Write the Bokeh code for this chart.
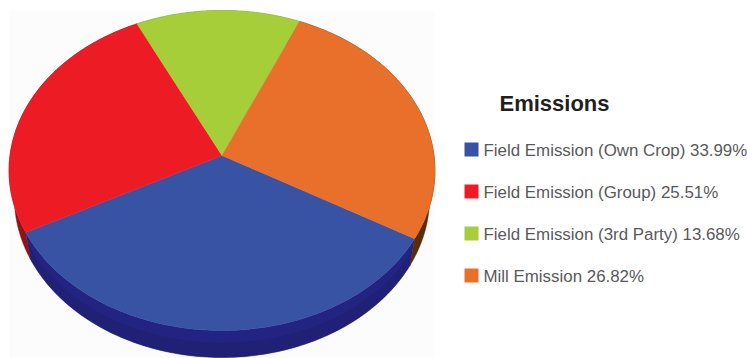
import numpy as np
from bokeh.plotting import figure
from bokeh.models import Range1d
from bokeh.core.properties import value
from bokeh.embed import file_html
from bokeh.resources import INLINE

title = "Emissions"
labels = ["Field Emission (Own Crop)", "Field Emission (Group)", "Field Emission (3rd Party)", "Mill Emission"]
shares = [33.99, 25.51, 13.68, 26.82]
colors = ["#3953a4", "#ed1c24", "#a6ce39", "#e8702a"]
side_colors = ["#232382", "#8f1414", "#6a8424", "#5a2c0c"]

# layout, in page pixels
CX, CY = 221.5, 155.0
A, B, K = 212.0, 158.6, 0.0938
DEPTH, NARROW = 27.0, 0.975
START = 120.0  # clockwise from 12 o'clock, where the first slice begins


def project(theta_deg, depth=0.0, narrow=1.0):
    t = np.radians(theta_deg)
    u, v = np.sin(t), np.cos(t)
    w = 1 + K * v
    return CX + narrow * A * u / w, CY - B * v / w + depth


p = figure(width=747, height=358, output_backend="svg", toolbar_location=None,
           x_range=Range1d(0, 747), y_range=Range1d(358, 0), min_border=0,
           background_fill_color="white", border_fill_color="white")
p.axis.visible = False
p.grid.visible = False
p.outline_line_color = None

p.quad(left=[9], right=[434], top=[10], bottom=[358], fill_color="#fcfcfc", line_color=None)

ends = START + np.cumsum(shares) * 3.6
starts = np.concatenate([[START], ends[:-1]])

# side wall
for s, e, c in zip(starts, ends, side_colors):
    th = np.linspace(s, e, 120)
    x1, y1 = project(th)
    x2, y2 = project(th[::-1], DEPTH, NARROW)
    p.patch(np.concatenate([x1, x2]), np.concatenate([y1, y2]), fill_color=c, line_color=c, line_width=0.5)

# darker lower band on the wall of the nearest slice
th = np.linspace(starts[0], ends[0], 160)
x1, y1 = project(th, DEPTH * 0.45, (1 + NARROW) / 2)
x2, y2 = project(th[::-1], DEPTH, NARROW)
p.patch(np.concatenate([x1, x2]), np.concatenate([y1, y2]), fill_color="#1f1f6e", fill_alpha=0.55, line_color=None)

# top face
for s, e, c in zip(starts, ends, colors):
    th = np.linspace(s, e, 120)
    x, y = project(th)
    p.patch(np.concatenate([[CX], x]), np.concatenate([[CY], y]), fill_color=c, line_color=c, line_width=0.5)

# legend
LEG_X, LEG_Y, LEG_STEP, BOX = 464, 142, 42, 14
TEXT_X = 483
ys = [LEG_Y + i * LEG_STEP for i in range(len(labels))]
p.quad(left=[LEG_X] * 4, right=[LEG_X + BOX] * 4, top=ys, bottom=[y + BOX for y in ys],
       fill_color=colors, line_color=None)
p.text(x=[TEXT_X] * 4, y=[y + 8 for y in ys],
       text=[f"{l} {s:.2f}%" for l, s in zip(labels, shares)],
       text_font=value("Liberation Sans"), text_font_size="16.9px", text_color="#58595b",
       text_baseline="alphabetic", text_align="left")
p.text(x=[499], y=[103], text=[title], text_font=value("Liberation Sans"), text_font_style="bold",
       text_font_size="22px", text_color="#231f20", text_baseline="alphabetic", text_align="left")

open("out.html", "w").write(file_html(p, INLINE))
